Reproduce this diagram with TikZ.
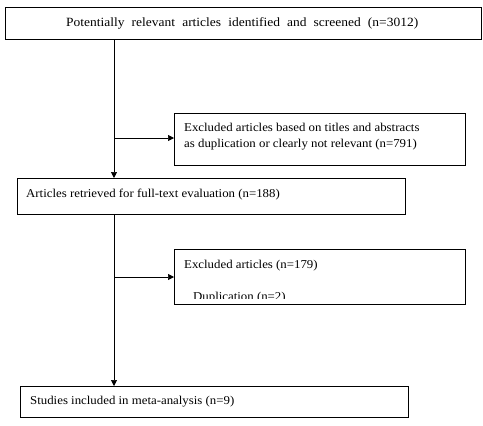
\documentclass[tikz,border=0pt]{standalone}
\usepackage{fontspec}
\setmainfont{Liberation Serif}[FakeStretch=1.07]
\usetikzlibrary{arrows.meta}
\begin{document}
\begin{tikzpicture}[x=1pt,y=-1pt,
  box/.style={draw,line width=0.9pt},
  txt/.style={inner sep=0pt,anchor=base west,font=\fontsize{12}{14}\selectfont},
  conn/.style={line width=0.7pt,-{Triangle[length=6pt,width=6pt]}}]
\useasboundingbox (0,0) rectangle (483,426);
\fill[white] (0,0) rectangle (483,426);
% boxes
\draw[box] (5,7) rectangle (481,39);
\node[txt,font=\fontsize{12.6}{15}\selectfont] (t1) at (66,26) {\makebox[352pt][s]{Potentially relevant articles identified and screened (n=3012)}};
\coordinate (b1) at (114,39);
\draw[box] (174,113) rectangle (465,165);
\coordinate (e1) at (174,138);
\node[txt] (t2a) at (184,131) {Excluded articles based on titles and abstracts};
\node[txt] (t2b) at (184,147) {as duplication or clearly not relevant (n=791)};
\draw[box] (17,178) rectangle (405,214);
\coordinate (b3top) at (114,178);
\coordinate (b3) at (114,214);
\node[txt] (t3) at (26,197) {Articles retrieved for full-text evaluation (n=188)};
\draw[box] (174,249) rectangle (465,304);
\coordinate (e2) at (174,277);
\node[txt] (t4a) at (184,268) {Excluded articles (n=179)};
\begin{scope}
\clip (175,250) rectangle (464,298);
\node[txt] (t4b) at (193,300) {Duplication (n=2)};
\end{scope}
\draw[box] (20,386) rectangle (408,417);
\coordinate (b5top) at (114,386);
\node[txt] (t5) at (30,404) {Studies included in meta-analysis (n=9)};
% connectors
\coordinate (j1) at (114,138);
\coordinate (j2) at (114,277);
\draw[conn] (b1) -- (b3top);
\draw[conn] (j1) -- (e1);
\draw[conn] (b3) -- (b5top);
\draw[conn] (j2) -- (e2);
\end{tikzpicture}
\end{document}
